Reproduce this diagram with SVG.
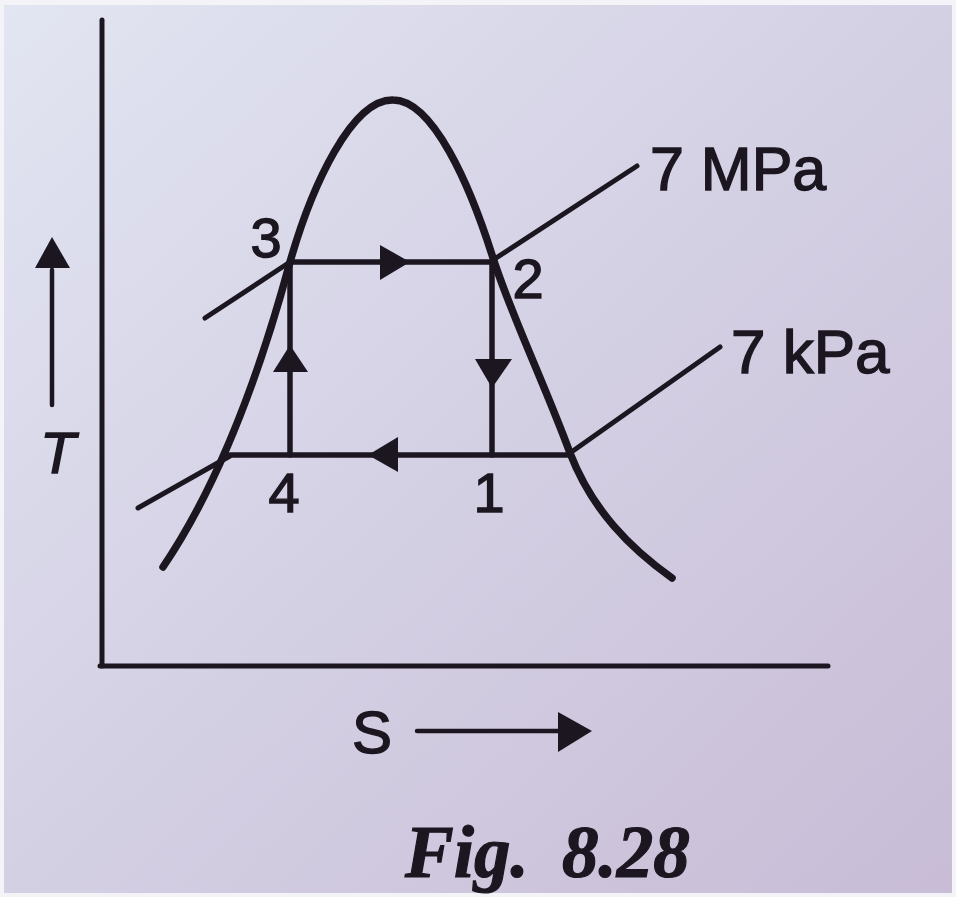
<svg xmlns="http://www.w3.org/2000/svg" width="956" height="897" viewBox="0 0 956 897">
<defs>
<linearGradient id="bg" x1="0" y1="0" x2="1" y2="1">
<stop offset="0" stop-color="#e2e5f2"/>
<stop offset="0.45" stop-color="#d5d2e5"/>
<stop offset="1" stop-color="#c8bcd6"/>
</linearGradient>
<style>
.ln{stroke:#1c1620;fill:none;stroke-linecap:round;stroke-linejoin:round}
.ax{stroke-width:5}
.dome{stroke-width:7.5}
.cyc{stroke-width:5.5}
.iso{stroke-width:5}
.ah{fill:#1c1620}
.lbl{font-family:"Liberation Sans",Arial,sans-serif;fill:#1c1620;stroke:#1c1620;stroke-width:1.4}
.fig{font-family:"Liberation Serif","Times New Roman",serif;font-weight:bold;font-style:italic;fill:#1c1620;stroke:#1c1620;stroke-width:1.2;font-size:73px}
</style>
</defs>
<rect x="0" y="0" width="956" height="897" fill="#f4f4f8"/>
<rect x="4" y="5" width="948" height="888" fill="url(#bg)"/>

<g id="axes">
<line class="ln ax" x1="102" y1="20" x2="102" y2="666"/>
<line class="ln ax" x1="100" y1="666" x2="828" y2="666"/>
<line class="ln" stroke-width="4.5" x1="52" y1="270" x2="52" y2="405"/>
<polygon class="ah" points="52,237 35,268 70,268"/>
<line class="ln" stroke-width="4.5" x1="417" y1="731" x2="560" y2="731"/>
<polygon class="ah" points="592,731 558,712 558,752"/>
<text class="lbl" x="40" y="473" font-size="58" font-style="italic" stroke-width="0.3">T</text>
<text class="lbl" x="352" y="753" font-size="60" stroke-width="0.3">S</text>
</g>

<g id="dome">
<path class="ln dome" d="M163,567 C205,505 250,410 290,262 C312,185 352,99 393,100 C433,100 470,185 493,258 C510,312 545,385 570,453 C592,510 630,548 672,578"/>
</g>

<g id="isobars">
<line class="ln iso" x1="205" y1="318" x2="290" y2="262"/>
<line class="ln iso" x1="493" y1="260" x2="637" y2="166"/>
<line class="ln iso" x1="138" y1="508" x2="230" y2="456"/>
<line class="ln iso" x1="570" y1="453" x2="720" y2="347"/>
</g>

<g id="cycle">
<line class="ln cyc" x1="290" y1="262" x2="493" y2="262"/>
<polygon class="ah" points="410,262 380,245 380,280"/>
<line class="ln cyc" x1="492" y1="262" x2="492" y2="455"/>
<polygon class="ah" points="492,388 475,359 512,359"/>
<line class="ln cyc" x1="570" y1="455" x2="230" y2="455"/>
<polygon class="ah" points="368,455 398,437 398,472"/>
<line class="ln cyc" x1="290" y1="455" x2="290" y2="262"/>
<polygon class="ah" points="290,345 273,372 308,372"/>
</g>

<g id="labels">
<text class="lbl" x="266" y="257" font-size="56" text-anchor="middle">3</text>
<text class="lbl" x="528" y="298" font-size="56" text-anchor="middle">2</text>
<text class="lbl" x="284" y="512" font-size="56" text-anchor="middle">4</text>
<text class="lbl" x="489" y="512" font-size="56" text-anchor="middle">1</text>
<text class="lbl" x="650" y="190" font-size="61" stroke-width="2">7 MPa</text>
<text class="lbl" x="731" y="373" font-size="62" stroke-width="2">7 kPa</text>
</g>

<g id="caption">
<text class="fig" x="405" y="877">Fig.</text>
<text class="fig" x="562" y="877">8.28</text>
</g>
</svg>
